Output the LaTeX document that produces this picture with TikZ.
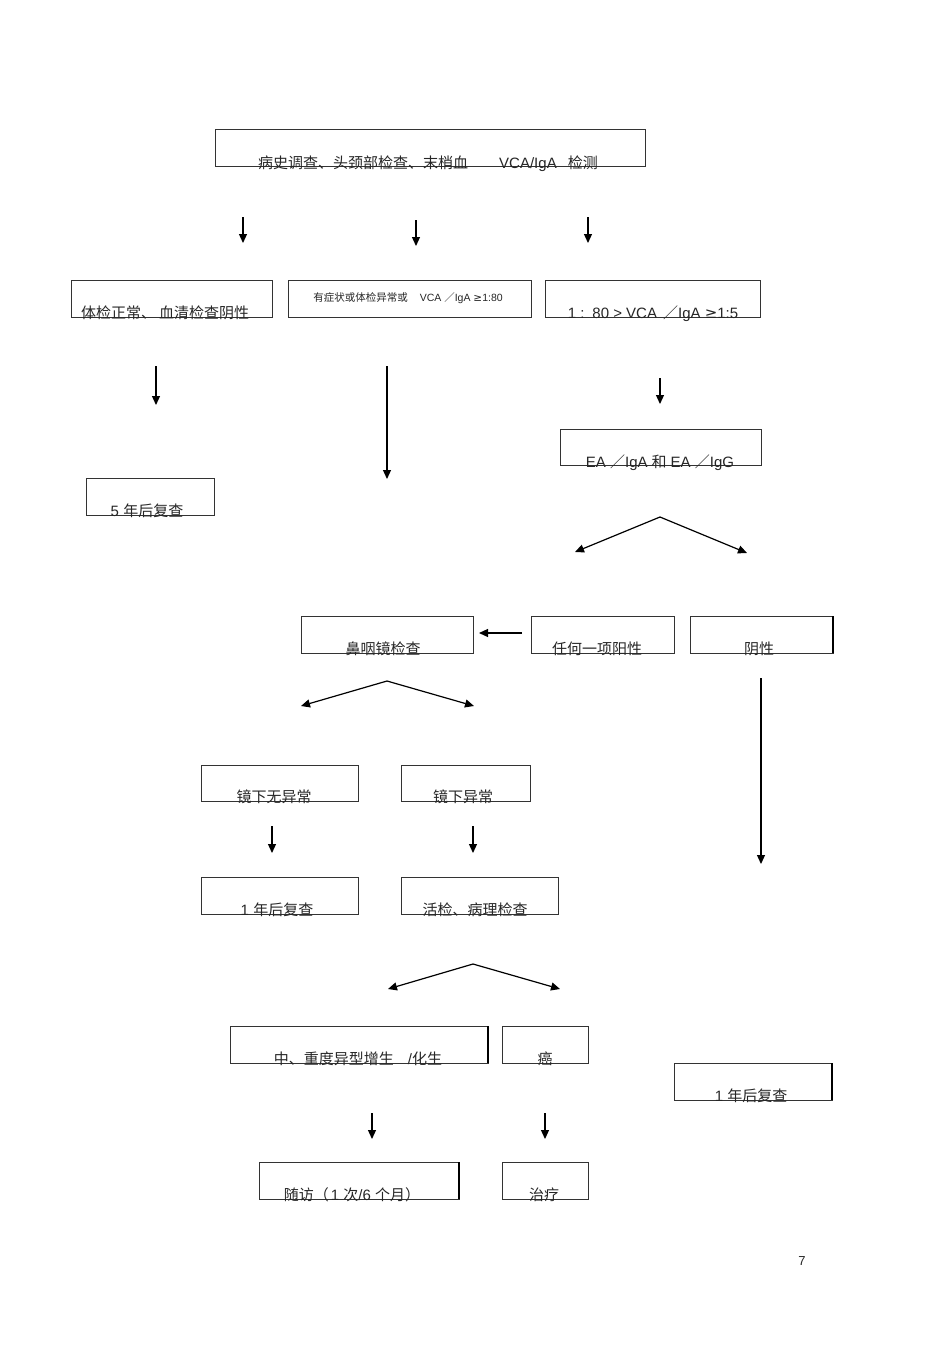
\documentclass[tikz,border=0pt]{standalone}
\usepackage{fontspec}
\setmainfont{Liberation Sans}
\newfontfamily\cjk{Noto Sans CJK SC}
\newfontfamily\symf{DejaVu Sans}
\usetikzlibrary{arrows.meta}
\begin{document}
\begin{tikzpicture}[x=1pt,y=-1pt,
  bx/.style={draw=black!80,line width=0.8pt},
  thk/.style={draw=black,line width=1.6pt},
  lbl/.style={inner sep=0pt,anchor=base,text=black!85,font=\fontsize{15}{15}\selectfont},
  arr/.style={draw=black,line width=1.2pt,-{Triangle[length=9pt,width=8pt]}}]
\useasboundingbox (0,0) rectangle (950,1345);
% boxes
\draw[bx] (215,129) rectangle (645,166); \coordinate (b1) at (430,147);
\draw[bx] (71,280) rectangle (272,317); \coordinate (b2) at (171,298);
\draw[bx] (288,280) rectangle (531,317); \coordinate (b3) at (409,298);
\draw[bx] (545,280) rectangle (760,317); \coordinate (b4) at (652,298);
\draw[bx] (560,429) rectangle (761,465); \coordinate (b5) at (660,447);
\draw[bx] (86,478) rectangle (214,515); \coordinate (b6) at (150,497);
\draw[bx] (301,616) rectangle (473,653); \coordinate (b7) at (387,635);
\draw[bx] (531,616) rectangle (674,653); \coordinate (b8) at (602,635);
\draw[bx] (690,616) rectangle (833,653); \coordinate (b9) at (761,635);
\draw[thk] (833,616) -- (833,653);
\draw[bx] (201,765) rectangle (358,801); \coordinate (b10) at (280,783);
\draw[bx] (401,765) rectangle (530,801); \coordinate (b11) at (465,783);
\draw[bx] (201,877) rectangle (358,914); \coordinate (b12) at (280,896);
\draw[bx] (401,877) rectangle (558,914); \coordinate (b13) at (480,896);
\draw[bx] (230,1026) rectangle (488,1063); \coordinate (b14) at (359,1045);
\draw[thk] (488,1026) -- (488,1063);
\draw[bx] (502,1026) rectangle (588,1063); \coordinate (b15) at (545,1045);
\draw[bx] (674,1063) rectangle (832,1100); \coordinate (b16) at (753,1082);
\draw[thk] (832,1063) -- (832,1100);
\draw[bx] (259,1162) rectangle (459,1199); \coordinate (b17) at (359,1181);
\draw[thk] (459,1162) -- (459,1199);
\draw[bx] (502,1162) rectangle (588,1199); \coordinate (b18) at (545,1181);
% labels
\node[lbl] (t1) at (428,168) {{\cjk 病史调查、头颈部检查、末梢血}\hspace{31pt}VCA/IgA\hspace{11pt}{\cjk 检测}};
\node[lbl] (t2) at (165,318.5) {{\cjk 体检正常、\hspace{3pt}血清检查阴性}};
\node[lbl,font=\fontsize{10.5}{10.5}\selectfont] (t3) at (408,301) {{\cjk 有症状或体检异常或}\hspace{12pt}VCA {\cjk ／}IgA {\symf ≥}1:80};
\node[lbl] (t4) at (653,318.5) {1 :\hspace{8pt}80 > VCA\hspace{6pt}{\cjk ／}IgA {\symf ≥}1:5};
\node[lbl] (t5) at (660,467) {EA {\cjk ／}IgA\hspace{4pt}{\cjk 和}\hspace{4pt}EA {\cjk ／}IgG};
\node[lbl] (t6) at (147,516.5) {5 {\cjk 年后复查}};
\node[lbl] (t7) at (383,654.5) {\cjk 鼻咽镜检查};
\node[lbl] (t8) at (597,654.5) {\cjk 任何一项阳性};
\node[lbl] (t9) at (759,654.5) {\cjk 阴性};
\node[lbl] (t10) at (274,802.5) {\cjk 镜下无异常};
\node[lbl] (t11) at (463,802.5) {\cjk 镜下异常};
\node[lbl] (t12) at (277,915.5) {1 {\cjk 年后复查}};
\node[lbl] (t13) at (475,915.5) {\cjk 活检、病理检查};
\node[lbl] (t14) at (358,1064.5) {{\cjk 中、重度异型增生}\hspace{14pt}/{\cjk 化生}};
\node[lbl] (t15) at (545,1064.5) {\cjk 癌};
\node[lbl] (t16) at (751,1101.5) {1 {\cjk 年后复查}};
\node[lbl] (t17) at (352,1200.5) {{\cjk 随访（}\hspace{2pt}1 {\cjk 次}/6 {\cjk 个月）}};
\node[lbl] (t18) at (544,1200.5) {\cjk 治疗};
\node[lbl,font=\fontsize{13}{13}\selectfont] (pg) at (802,1265) {7};
% arrow coordinates
\coordinate (a1s) at (243,217); \coordinate (a1e) at (243,243);
\coordinate (a2s) at (416,220); \coordinate (a2e) at (416,246);
\coordinate (a3s) at (588,217); \coordinate (a3e) at (588,243);
\coordinate (a4s) at (156,366); \coordinate (a4e) at (156,405);
\coordinate (a5s) at (387,366); \coordinate (a5e) at (387,479);
\coordinate (a6s) at (660,378); \coordinate (a6e) at (660,404);
\coordinate (v1) at (660,517); \coordinate (v1l) at (575,552); \coordinate (v1r) at (747,553);
\coordinate (a7s) at (522,633); \coordinate (a7e) at (479,633);
\coordinate (v2) at (387,681); \coordinate (v2l) at (301,706); \coordinate (v2r) at (474,706);
\coordinate (a8s) at (272,826); \coordinate (a8e) at (272,853);
\coordinate (a9s) at (473,826); \coordinate (a9e) at (473,853);
\coordinate (a10s) at (761,678); \coordinate (a10e) at (761,864);
\coordinate (v3) at (473,964); \coordinate (v3l) at (388,989); \coordinate (v3r) at (560,989);
\coordinate (a11s) at (372,1113); \coordinate (a11e) at (372,1139);
\coordinate (a12s) at (545,1113); \coordinate (a12e) at (545,1139);
% arrows
\foreach \a in {1,...,12} {\draw[arr] (a\a s) -- (a\a e);}
\draw[arr] (v1) -- (v1l); \draw[arr] (v1) -- (v1r);
\draw[arr] (v2) -- (v2l); \draw[arr] (v2) -- (v2r);
\draw[arr] (v3) -- (v3l); \draw[arr] (v3) -- (v3r);
\end{tikzpicture}
\end{document}
